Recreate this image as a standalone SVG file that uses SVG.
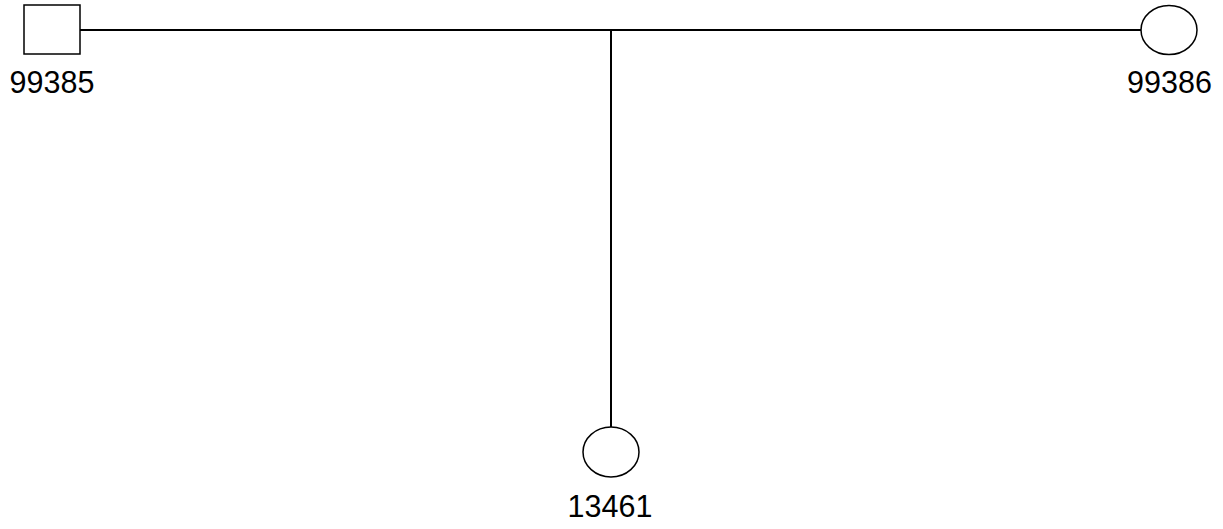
<svg xmlns="http://www.w3.org/2000/svg" width="1223" height="529" viewBox="0 0 1223 529">
<style>
.shape{fill:#fff;stroke:#000;stroke-width:1.5}
.line{stroke:#000;stroke-width:2;fill:none}
.lbl{font-family:"Liberation Sans",Arial,sans-serif;font-size:30.5px;fill:#000;text-anchor:middle}
</style>
<rect width="1223" height="529" fill="#fff"/>
<g id="connectors">
<line class="line" x1="80" y1="30" x2="1141" y2="30"/>
<line class="line" x1="611" y1="30" x2="611" y2="427"/>
</g>
<g id="n99385">
<rect class="shape" x="24" y="5" width="56" height="49"/>
<text class="lbl" x="52" y="93">99385</text>
</g>
<g id="n99386">
<ellipse class="shape" cx="1169" cy="30" rx="28" ry="24.5"/>
<text class="lbl" x="1169.5" y="93">99386</text>
</g>
<g id="n13461">
<ellipse class="shape" cx="611" cy="452" rx="28" ry="25"/>
<text class="lbl" x="610" y="517">13461</text>
</g>
</svg>
